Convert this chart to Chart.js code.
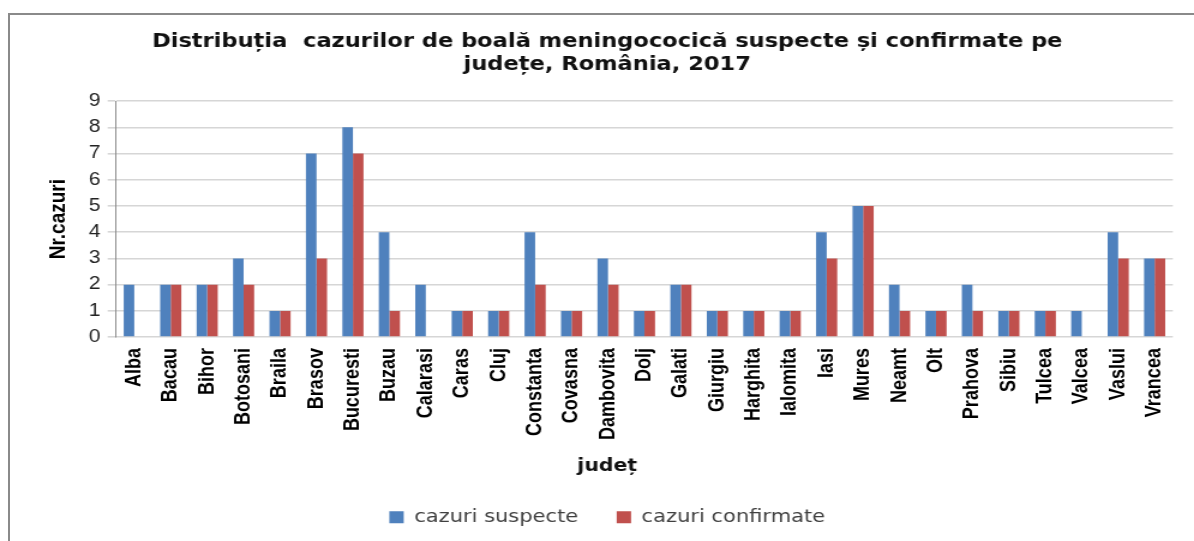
<!DOCTYPE html>
<html>
<head>
<meta charset="utf-8">
<title>Boala meningococica 2017</title>
<script src="https://cdn.jsdelivr.net/npm/chart.js@4.4.1/dist/chart.umd.min.js"></script>
<style>
    html, body { margin: 0; padding: 0; background: #fff; overflow: hidden; }
    #frame {
        position: absolute; left: 8px; top: 13px; width: 1400px; height: 800px;
        border-left: 2px solid #8a8a8a; border-top: 2px solid #8a8a8a;
    }
    /* the source picture is stretched sideways, so the chart is too */
    #wrap {
        position: absolute; left: 0; top: 0; width: 995px; height: 541px;
        transform: scaleX(1.2); transform-origin: 0 0;
    }
</style>
</head>
<body>
<div id="frame"></div>
<div id="wrap"><canvas id="chart"></canvas></div>
<script>
const judete = ["Alba", "Bacau", "Bihor", "Botosani", "Braila", "Brasov", "Bucuresti", "Buzau",
    "Calarasi", "Caras", "Cluj", "Constanta", "Covasna", "Dambovita", "Dolj", "Galati",
    "Giurgiu", "Harghita", "Ialomita", "Iasi", "Mures", "Neamt", "Olt", "Prahova",
    "Sibiu", "Tulcea", "Valcea", "Vaslui", "Vrancea"];
const suspecte = [2, 2, 2, 3, 1, 7, 8, 4, 2, 1, 1, 4, 1, 3, 1, 2, 1, 1, 1, 4, 5, 2, 1, 2, 1, 1, 1, 4, 3];
const confirmate = [0, 2, 2, 2, 1, 3, 7, 1, 0, 1, 1, 2, 1, 2, 1, 2, 1, 1, 1, 3, 5, 1, 1, 1, 1, 1, 0, 3, 3];
const yMin = 0;
const yMax = 9;
const yStep = 1;

document.addEventListener("DOMContentLoaded", () => {
    const ctx = document.getElementById("chart").getContext("2d");
    new Chart(ctx, {
        type: "bar",
        data: {
            labels: judete,
            datasets: [
                { label: "cazuri suspecte", data: suspecte, backgroundColor: "#4F81BD", borderWidth: 0 },
                { label: "cazuri confirmate", data: confirmate, backgroundColor: "#C0504D", borderWidth: 0 }
            ]
        },
        options: {
            responsive: true,
            maintainAspectRatio: false,
            animation: false,
            categoryPercentage: 0.58,
            barPercentage: 1.0,
            layout: { padding: { top: 0, left: 30, right: 13, bottom: 5 } },
            plugins: {
                title: {
                    display: true,
                    text: ["Distribuția  cazurilor de boală meningococică suspecte și confirmate pe",
                           "județe, România, 2017"],
                    color: "#111",
                    font: { family: "DejaVu Sans", size: 18.8, weight: "bold", lineHeight: 1.2 },
                    padding: { top: 31, bottom: 25 }
                },
                subtitle: {
                    display: true,
                    position: "bottom",
                    weight: 500,
                    text: "județ",
                    color: "#111",
                    font: { family: "DejaVu Sans", size: 17, weight: "bold", lineHeight: 1.2 },
                    padding: { top: 9, bottom: 0 }
                },
                legend: {
                    position: "bottom",
                    labels: {
                        boxWidth: 12,
                        boxHeight: 12,
                        padding: 32,
                        color: "#404040",
                        font: { family: "DejaVu Sans", size: 17.5 }
                    }
                },
                tooltip: { enabled: false }
            },
            scales: {
                x: {
                    afterFit: scale => { scale.height = 110; },
                    grid: { display: false, drawTicks: false },
                    border: { display: false },
                    ticks: {
                        autoSkip: false,
                        minRotation: 90,
                        maxRotation: 90,
                        padding: 11,
                        color: "#000",
                        font: { family: "Liberation Sans", size: 18, weight: "bold" }
                    }
                },
                y: {
                    min: yMin,
                    max: yMax,
                    afterFit: scale => { scale.width = 66.7; },
                    grid: { color: "#d6d6d6", lineWidth: 1.6, tickLength: 7 },
                    border: { display: true, color: "#8a8a8a", width: 1 },
                    ticks: {
                        stepSize: yStep,
                        padding: 6,
                        color: "#222",
                        font: { family: "Liberation Sans", size: 17.5 }
                    },
                    title: {
                        display: true,
                        text: "Nr.cazuri",
                        color: "#000",
                        font: { family: "Liberation Sans", size: 19, weight: "bold", lineHeight: 1.2 },
                        padding: { top: 7, bottom: 0 }
                    }
                }
            }
        }
    });
});
</script>
</body>
</html>
